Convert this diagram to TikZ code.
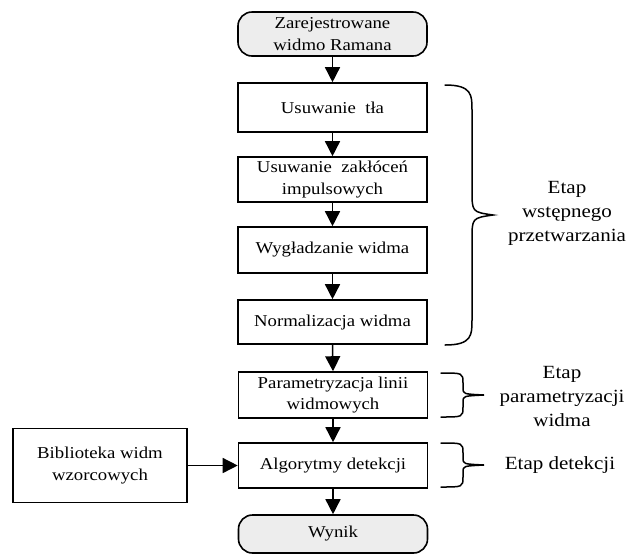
\documentclass[tikz,border=0pt]{standalone}
\usepackage{fontspec}
\setmainfont{Liberation Serif}[FakeStretch=1.13]
\usetikzlibrary{arrows.meta}
\begin{document}
\begin{tikzpicture}[x=1pt,y=-1pt,
  boxfont/.style={font=\fontsize{16.6}{21.5}\selectfont},
  proc/.style={boxfont, draw, line width=1.6pt, minimum width=189pt, inner sep=0pt, align=center},
  term/.style={proc, rounded corners=14pt, fill=black!7},
  lbl/.style={font=\fontsize{18.6}{24}\selectfont, align=center, inner sep=0pt},
  arr/.style={line width=1.5pt, -{Triangle[width=15pt,length=15pt]}},
  brace/.style={line width=1.5pt, line cap=round}]
\useasboundingbox (0,0) rectangle (629,558);
\node[term, minimum height=44pt] (start) at (332.5,34) {Zarejestrowane\\widmo Ramana};
\node[proc, minimum height=49pt] (b1) at (332.5,107.5) {Usuwanie~ tła};
\node[proc, minimum height=45pt] (b2) at (332.5,179.5) {Usuwanie~ zakłóceń\\impulsowych};
\node[proc, minimum height=46pt] (b3) at (332.5,250) {Wygładzanie widma};
\node[proc, minimum height=44pt] (b4) at (332.5,322) {Normalizacja widma};
\node[proc, minimum height=46pt] (b5) at (333,395) {Parametryzacja linii\\widmowych};
\node[proc, minimum height=45pt] (b6) at (333,465.5) {Algorytmy detekcji};
\node[term, minimum height=38pt] (wynik) at (333,534) {Wynik};
\node[proc, minimum width=174pt, minimum height=74pt] (lib) at (100,465.5) {Biblioteka widm\\wzorcowych};
\draw[arr] (start) -- (b1);
\draw[arr] (b1) -- (b2);
\draw[arr] (b2) -- (b3);
\draw[arr] (b3) -- (b4);
\draw[arr] (b4.south) -- (b5.north);
\draw[arr] (b5) -- (b6);
\draw[arr] (b6) -- (wynik);
\draw[arr] (lib) -- (b6);
% braces
\draw[brace] (445,85) .. controls (472,85) and (472,95) .. (472,110) -- (472,190)
  .. controls (472,212) .. (493,215) .. controls (472,218) .. (472,240) -- (472,320)
  .. controls (472,335) and (472,345) .. (445,345);
\draw[brace] (441,373) .. controls (463,373) .. (463,383) -- (463,388)
  .. controls (463,394) .. (484,395) .. controls (463,396) .. (463,402) -- (463,407)
  .. controls (463,417) .. (441,417);
\draw[brace] (441,443) .. controls (463,443) .. (463,453) -- (463,458)
  .. controls (463,464) .. (484,465) .. controls (463,466) .. (463,472) -- (463,477)
  .. controls (463,487) .. (441,487);
\node[lbl] (l1) at (567,213) {Etap\\wstępnego\\przetwarzania};
\node[lbl] (l2) at (562,396) {Etap\\parametryzacji\\widma};
\node[lbl] (l3) at (560,465) {Etap detekcji};
\end{tikzpicture}
\end{document}
